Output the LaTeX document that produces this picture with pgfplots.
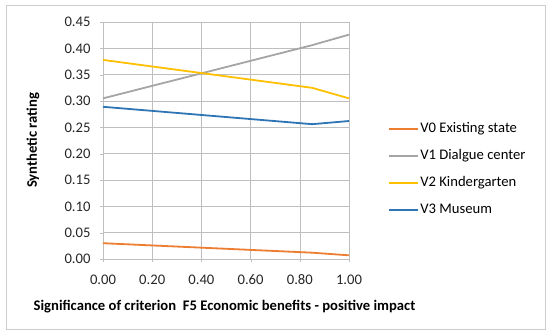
\documentclass[border=0pt]{standalone}
\usepackage{pgfplots}
\pgfplotsset{compat=1.18}
\usepackage{fontspec}
\setmainfont{Carlito}
\definecolor{cOr}{HTML}{ED7D31}
\definecolor{cGr}{HTML}{A5A5A5}
\definecolor{cYe}{HTML}{FFC000}
\definecolor{cBl}{HTML}{2E75B6}
\definecolor{cGrid}{HTML}{BFBFBF}
\begin{document}
\begin{tikzpicture}[x=1bp,y=1bp]
\path (0,0) rectangle (550,334);
\draw[cGrid!80, line width=0.8bp] (6,5) rectangle (545,329);
\begin{axis}[
  at={(103bp,75bp)}, anchor=south west,
  scale only axis, width=246bp, height=237bp,
  xmin=0, xmax=1, ymin=0, ymax=0.45,
  xtick={0,0.2,0.4,0.6,0.8,1.0},
  ytick={0,0.05,0.1,0.15,0.2,0.25,0.3,0.35,0.4,0.45},
  grid=major, major grid style={cGrid, line width=0.6bp},
  axis line style={cGrid, line width=0.6bp},
  tick style={cGrid}, major tick length=3bp,
  xtick pos=bottom, ytick pos=left,
  tick align=outside,
  xticklabel style={/pgf/number format/.cd, fixed, fixed zerofill, precision=2},
  yticklabel style={/pgf/number format/.cd, fixed, fixed zerofill, precision=2},
  /pgf/number format/assume math mode=true,
  ticklabel style={font=\fontsize{14.7}{16}\selectfont, text=black!85},
  xticklabel shift=9bp, yticklabel shift=6bp,
  xlabel={\textbf{Significance of criterion\ \ F5 Economic benefits - positive impact}},
  ylabel={\textbf{Synthetic rating}},
  label style={font=\fontsize{14.7}{16}\selectfont},
  xlabel style={at={(axis description cs:0.494,-0.199)}, anchor=center},
  ylabel style={at={(axis description cs:-0.2846,0.5)}, anchor=center},
  legend style={draw=none, fill=none, at={(axis description cs:1.159,0.583)}, anchor=north west,
    font=\fontsize{14.7}{16}\selectfont, row sep=12bp, legend cell align=left, inner sep=0pt,
    nodes={inner sep=1bp, text height=10bp, text depth=3bp}},
  legend image code/.code={\draw[#1, line width=2bp] (0bp,0bp) -- (29bp,0bp);},
  every axis plot/.append style={line width=1.8bp},
  clip=false,
]
\addplot[cOr] coordinates {(0,0.030) (0.85,0.012) (1,0.007)};
\addlegendentry{V0 Existing state}
\addplot[cGr] coordinates {(0,0.305) (0.85,0.406) (1,0.426)};
\addlegendentry{V1 Dialgue center}
\addplot[cYe] coordinates {(0,0.378) (0.85,0.325) (1,0.305)};
\addlegendentry{V2 Kindergarten}
\addplot[cBl] coordinates {(0,0.289) (0.85,0.256) (1,0.262)};
\addlegendentry{V3 Museum}
\end{axis}
\end{tikzpicture}
\end{document}
